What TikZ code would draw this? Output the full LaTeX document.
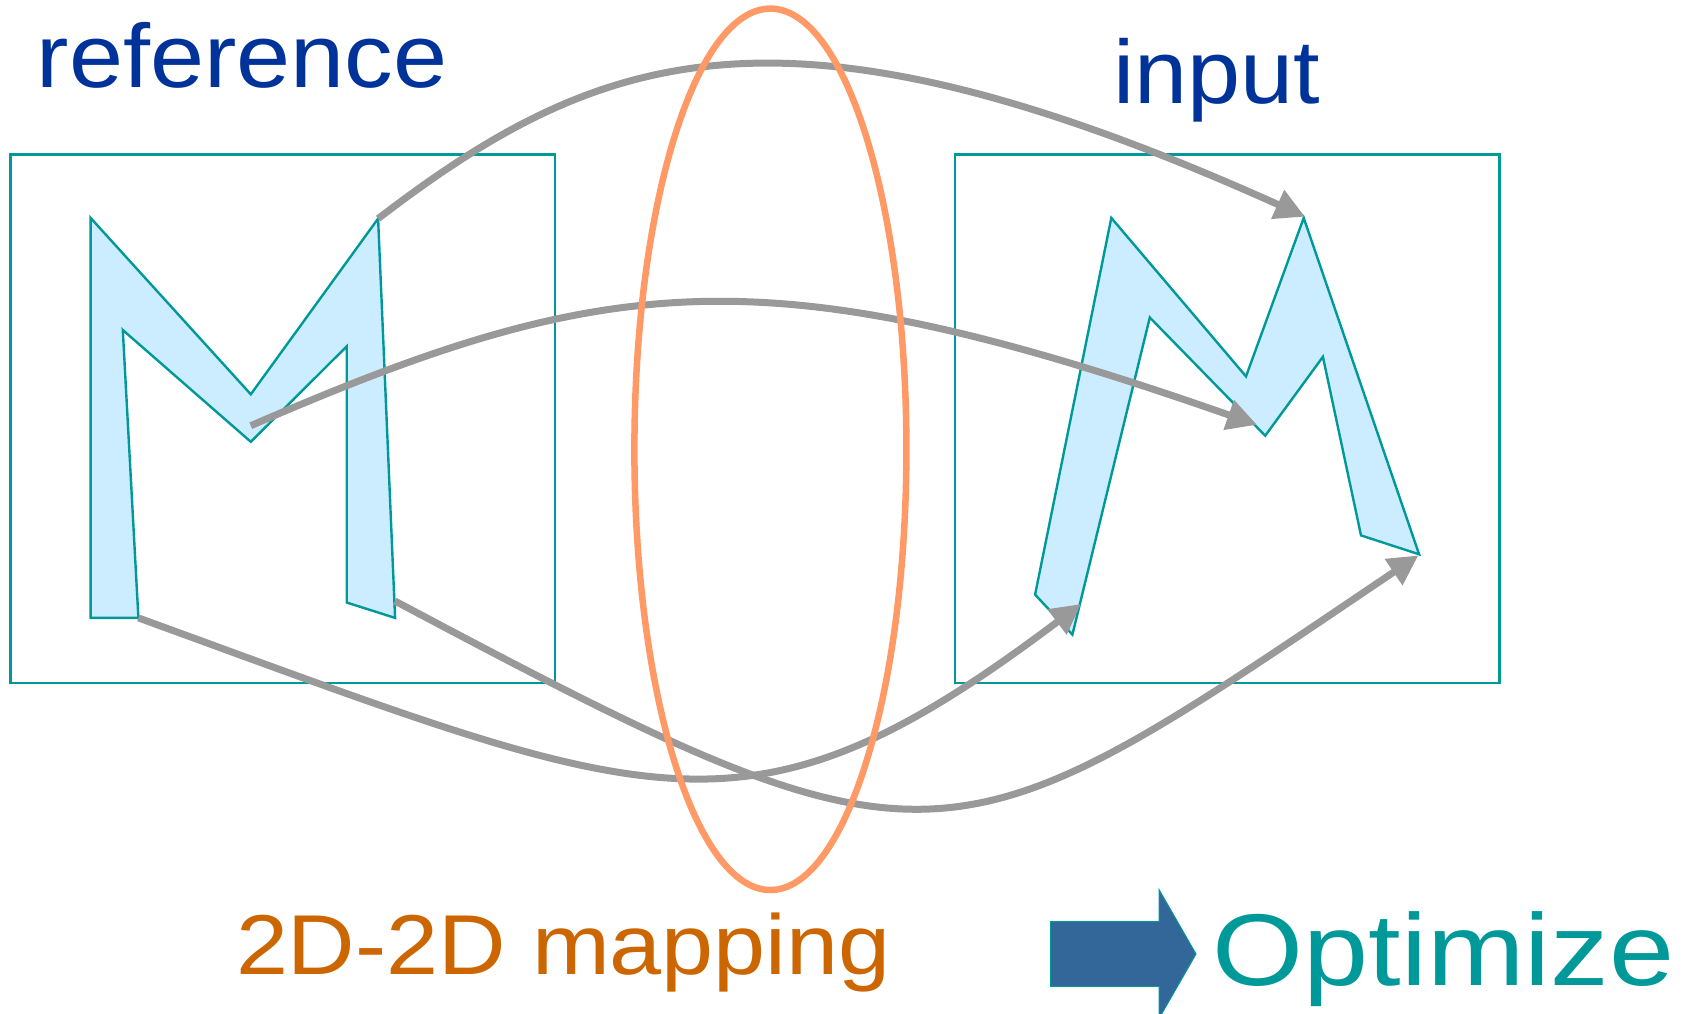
\documentclass[tikz,border=0pt]{standalone}
\usepackage{fontspec}
\setmainfont{Liberation Sans}
\usetikzlibrary{arrows.meta,shapes.geometric}
\definecolor{tealc}{HTML}{009999}
\definecolor{mfill}{HTML}{CCECFF}
\definecolor{grayc}{HTML}{999999}
\definecolor{ellc}{HTML}{FF9966}
\definecolor{bluet}{HTML}{003399}
\definecolor{orant}{HTML}{CC6600}
\definecolor{arrowc}{HTML}{336699}
\tikzset{
  framebox/.style={draw=tealc, line width=2.4pt, minimum width=544.5pt, minimum height=528.6pt, anchor=north west, inner sep=0pt, outer sep=0pt},
  letterm/.style={draw=tealc, fill=mfill, line width=2.4pt, line join=miter},
  mapcurve/.style={draw=grayc, line width=7pt, -{Triangle[length=30pt,width=30pt]}},
  txt/.style={inner sep=0pt, outer sep=0pt, anchor=base west},
}
\begin{document}
\begin{tikzpicture}[x=1pt,y=-1pt]
\clip (0,0) rectangle (1686,1013);
\fill[white] (0,0) rectangle (1686,1013);

% frames
\node[framebox] (refbox) at (10.5,154.3) {};
\node[framebox] (inbox) at (955,154.3) {};

% left M
\coordinate (A) at (90.6,217.9);
\coordinate (B) at (250.8,394.3);
\coordinate (C) at (378.1,218.6);
\coordinate (D) at (395.1,617.9);
\coordinate (E) at (346.7,602.5);
\coordinate (F) at (346.7,346.4);
\coordinate (G) at (250.8,441.8);
\coordinate (H) at (122.8,330);
\coordinate (I) at (138.4,617.9);
\coordinate (J) at (90.6,617.9);
\draw[letterm] (A) -- (B) -- (C) -- (D) -- (E) -- (F) -- (G) -- (H) -- (I) -- (J) -- cycle;

% right M
\coordinate (a) at (1111.3,217.9);
\coordinate (b) at (1246,376.4);
\coordinate (c) at (1303.7,217.9);
\coordinate (d) at (1419.1,554.3);
\coordinate (e) at (1361,535.4);
\coordinate (f) at (1322.9,356.8);
\coordinate (g) at (1265.2,435.7);
\coordinate (h) at (1149.8,317.5);
\coordinate (i) at (1072.4,634.6);
\coordinate (j) at (1035.1,594.6);
\draw[letterm] (a) -- (b) -- (c) -- (d) -- (e) -- (f) -- (g) -- (h) -- (i) -- (j) -- cycle;

% mapping curves
\coordinate (s2) at (250.8,425.7);
\coordinate (t2) at (1257,424.8);
\coordinate (t3) at (1081,604);
\coordinate (s4) at (395,601);
\coordinate (t4) at (1418.4,555.4);
\coordinate (t1) at (1305,216.7);
\draw[mapcurve] (C) .. controls +(220,-168) and +(-524,-236) .. (t1);
\draw[mapcurve] (s2) .. controls +(360,-156) and +(-489,-171) .. (t2);
\draw[mapcurve] (I) .. controls +(517,188) and +(-336,253) .. (t3);
\draw[mapcurve] (s4) .. controls +(547,291) and +(-473,319) .. (t4);

% ellipse
\node[draw=ellc, line width=6.5pt, ellipse, minimum width=272pt, minimum height=881.4pt, inner sep=0pt] (oval) at (770.4,449.3) {};

% texts
\node[txt, text=bluet, xscale=1.08] (reftxt) at (36.9,87.7) {\fontsize{90}{100}\selectfont reference};
\node[txt, text=bluet, xscale=1.06] (intxt) at (1113.6,103.3) {\fontsize{90}{100}\selectfont input};
\node[txt, text=orant, xscale=1.1] (maptxt) at (236,974.3) {\fontsize{85}{95}\selectfont 2D-2D mapping};
\node[txt, text=tealc, xscale=1.147] (opttxt) at (1212.6,985.6) {\fontsize{102}{110}\selectfont Optimize};

% big arrow
\draw[fill=arrowc, draw=tealc, line width=1pt] (1050.6,921.5) -- (1159,921.5) -- (1159,889.5) -- (1196,954) -- (1159,1018.5) -- (1159,986.3) -- (1050.6,986.3) -- cycle;
\end{tikzpicture}
\end{document}
